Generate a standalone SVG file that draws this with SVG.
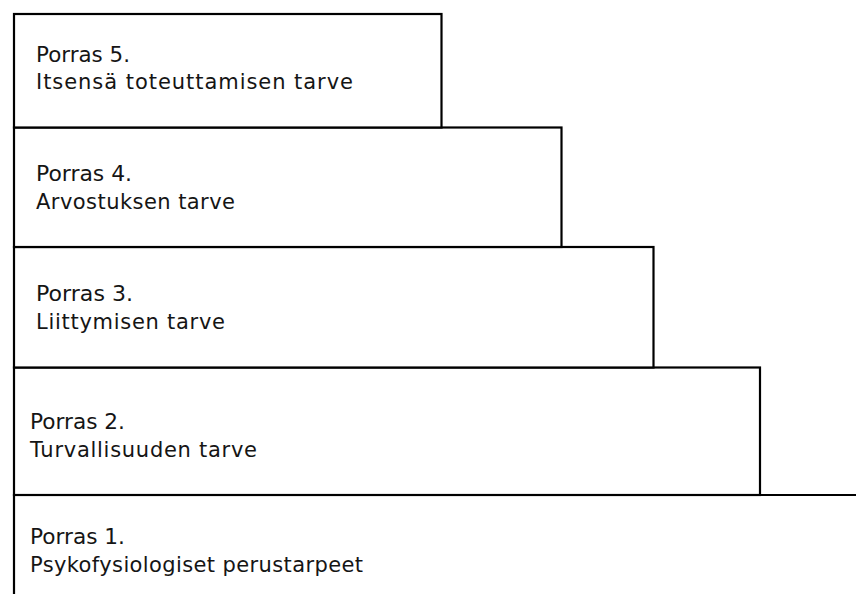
<svg xmlns="http://www.w3.org/2000/svg" width="856" height="594" viewBox="0 0 856 594">
<style>
.box{fill:#fff;stroke:#000;stroke-width:2.2}
.t{font-family:"DejaVu Sans",Verdana,sans-serif;font-size:21px;fill:#151515}
</style>
<rect width="856" height="594" fill="#fff"/>
<g id="porras1">
<path class="box" d="M14,495 H858 V598 H14 Z"/>
<text class="t" x="30" y="544" textLength="95" lengthAdjust="spacingAndGlyphs">Porras 1.</text>
<text class="t" x="30" y="571.5" textLength="333" lengthAdjust="spacing">Psykofysiologiset perustarpeet</text>
</g>
<g id="porras2">
<rect class="box" x="14" y="367.5" width="746" height="127.5"/>
<text class="t" x="30" y="429" textLength="95" lengthAdjust="spacingAndGlyphs">Porras 2.</text>
<text class="t" x="30" y="457" textLength="227" lengthAdjust="spacing">Turvallisuuden tarve</text>
</g>
<g id="porras3">
<rect class="box" x="14" y="247" width="639.5" height="120.5"/>
<text class="t" x="36" y="301" textLength="97" lengthAdjust="spacingAndGlyphs">Porras 3.</text>
<text class="t" x="36" y="329" textLength="189" lengthAdjust="spacing">Liittymisen tarve</text>
</g>
<g id="porras4">
<rect class="box" x="14" y="127.5" width="547.5" height="119.5"/>
<text class="t" x="36" y="181" textLength="96" lengthAdjust="spacingAndGlyphs">Porras 4.</text>
<text class="t" x="36" y="209" textLength="199" lengthAdjust="spacing">Arvostuksen tarve</text>
</g>
<g id="porras5">
<rect class="box" x="14" y="14" width="427.5" height="113.5"/>
<text class="t" x="36" y="62" textLength="94" lengthAdjust="spacingAndGlyphs">Porras 5.</text>
<text class="t" x="36" y="89" textLength="317" lengthAdjust="spacing">Itsensä toteuttamisen tarve</text>
</g>
<g id="connectors"/>
</svg>
